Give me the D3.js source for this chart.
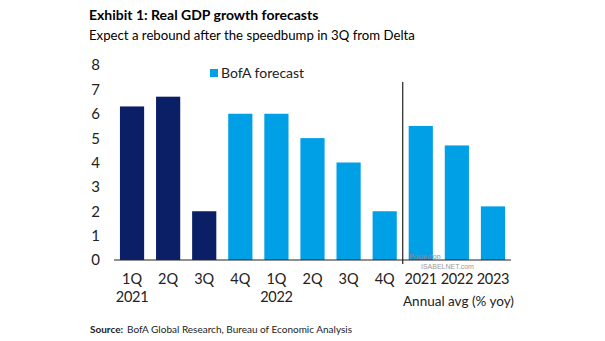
<!DOCTYPE html>
<html>
<head>
<meta charset="utf-8">
<script src="https://cdn.jsdelivr.net/npm/d3@7"></script>
<style>
  body { margin: 0; background: #fff; }
  svg { display: block; font-family: Lato, "Open Sans", sans-serif; }
</style>
</head>
<body>
<div id="chart"></div>
<script>
// quarterly real GDP growth, then annual averages
const categories = ["1Q21", "2Q21", "3Q21", "4Q21", "1Q22", "2Q22", "3Q22", "4Q22", "A2021", "A2022", "A2023"];
const tickLabels = ["1Q", "2Q", "3Q", "4Q", "1Q", "2Q", "3Q", "4Q", "2021", "2022", "2023"];
const values = [6.3, 6.7, 2.0, 6.0, 6.0, 5.0, 4.0, 2.0, 5.5, 4.7, 2.2];
const isForecast = [false, false, false, true, true, true, true, true, true, true, true];
const yTicks = [0, 1, 2, 3, 4, 5, 6, 7, 8];
const yearLabels = [{ at: "1Q21", text: "2021" }, { at: "1Q22", text: "2022" }];

const W = 605, H = 341;
const navy = "#0b1f66", blue = "#00a0e6";

const svg = d3.select("#chart").append("svg")
    .attr("width", W)
    .attr("height", H);

const x = d3.scaleBand()
    .domain(categories)
    .range([114, 511])
    .paddingInner(0.33)
    .paddingOuter(0.165);

const y = d3.scaleLinear()
    .domain([0, 8])
    .range([260, 65]);

// title
svg.append("text")
    .attr("x", 89).attr("y", 20)
    .attr("font-size", 14).attr("font-weight", "bold")
    .attr("fill", "#000")
    .text("Exhibit 1: Real GDP growth forecasts");
svg.append("text")
    .attr("x", 89).attr("y", 40)
    .attr("font-size", 13.2)
    .attr("fill", "#000")
    .text("Expect a rebound after the speedbump in 3Q from Delta");

// y tick labels (no axis line)
svg.append("g").selectAll("text")
    .data(yTicks)
    .join("text")
    .attr("x", 100)
    .attr("y", d => y(d))
    .attr("dy", "0.36em")
    .attr("text-anchor", "end")
    .attr("font-size", 15)
    .attr("fill", "#222")
    .text(d => d);

// bars
svg.append("g").selectAll("rect")
    .data(categories)
    .join("rect")
    .attr("x", d => x(d))
    .attr("width", x.bandwidth())
    .attr("y", (d, i) => y(values[i]))
    .attr("height", (d, i) => y(0) - y(values[i]))
    .attr("fill", (d, i) => isForecast[i] ? blue : navy);

// baseline
svg.append("line")
    .attr("x1", 114).attr("x2", 511)
    .attr("y1", y(0)).attr("y2", y(0))
    .attr("stroke", "#222").attr("stroke-width", 1);

// divider between quarterly and annual
const divX = (x("4Q22") + x.bandwidth() + x("A2021")) / 2;
svg.append("line")
    .attr("x1", divX).attr("x2", divX)
    .attr("y1", 82).attr("y2", 264)
    .attr("stroke", "#222").attr("stroke-width", 1.2);

// watermark
svg.append("text")
    .attr("x", 409).attr("y", 259)
    .attr("font-family", "Liberation Sans, Arial, sans-serif")
    .attr("font-size", 7).attr("fill", "#8a8a8a")
    .text("Posted on");
svg.append("text")
    .attr("x", 421).attr("y", 269)
    .attr("font-family", "Liberation Sans, Arial, sans-serif")
    .attr("font-size", 7).attr("fill", "#9a9a9a")
    .text("ISABELNET.com");

// x tick labels
svg.append("g").selectAll("text")
    .data(categories)
    .join("text")
    .attr("x", d => x(d) + x.bandwidth() / 2)
    .attr("y", 284)
    .attr("text-anchor", "middle")
    .attr("font-size", 14.5)
    .attr("letter-spacing", (d, i) => i >= 8 ? -0.3 : 0)
    .attr("fill", "#222")
    .text((d, i) => tickLabels[i]);

svg.append("g").selectAll("text")
    .data(yearLabels)
    .join("text")
    .attr("x", d => x(d.at) + x.bandwidth() / 2)
    .attr("y", 302)
    .attr("text-anchor", "middle")
    .attr("font-size", 14.5)
    .attr("letter-spacing", -0.3)
    .attr("fill", "#222")
    .text(d => d.text);

svg.append("text")
    .attr("x", 403).attr("y", 306)
    .attr("font-size", 13.5)
    .attr("fill", "#222")
    .text("Annual avg (% yoy)");

// legend
svg.append("rect")
    .attr("x", 210).attr("y", 69)
    .attr("width", 8).attr("height", 8)
    .attr("fill", blue);
svg.append("text")
    .attr("x", 221).attr("y", 73)
    .attr("dy", "0.36em")
    .attr("font-size", 14)
    .attr("fill", "#222")
    .text("BofA forecast");

// source
const src = svg.append("text")
    .attr("x", 90).attr("y", 333)
    .attr("font-size", 10)
    .attr("fill", "#222");
src.append("tspan").attr("font-weight", "bold").text("Source:");
src.append("tspan").attr("dx", 4).text("BofA Global Research, Bureau of Economic Analysis");
</script>
</body>
</html>
